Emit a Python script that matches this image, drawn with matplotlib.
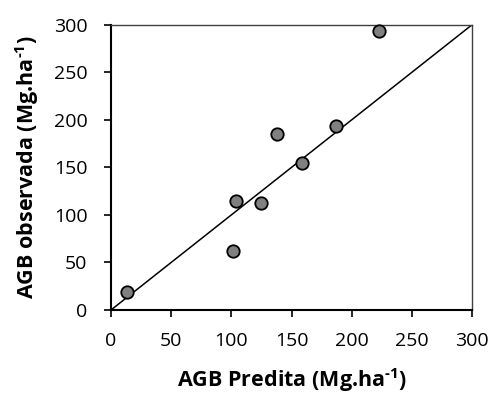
import matplotlib
matplotlib.use("Agg")
import matplotlib.pyplot as plt

predita = [13.0, 101.6, 103.5, 124.6, 137.6, 158.6, 187.1, 222.3]
observada = [19.2, 62.3, 114.5, 112.8, 184.9, 154.5, 193.3, 293.5]
line_x = [0, 300]
line_y = [0, 300]
ticks = [0, 50, 100, 150, 200, 250, 300]

plt.rcParams['font.family'] = ['Open Sans', 'DejaVu Sans']
plt.rcParams['axes.unicode_minus'] = False
plt.rcParams['mathtext.fontset'] = 'custom'
plt.rcParams['mathtext.rm'] = 'Open Sans:bold'

fig = plt.figure(figsize=(4.9, 3.94), dpi=100)
ax = fig.add_axes([0.2265, 0.2132, 0.964 - 0.2265, 0.9378 - 0.2132])

ax.plot(line_x, line_y, color='black', lw=1.1, zorder=2)
ax.scatter(predita, observada, s=80, facecolor='#808080', edgecolor='black',
           linewidths=1.3, zorder=3, clip_on=False)

ax.set_xlim(0, 300)
ax.set_ylim(0, 300)
ax.set_xticks(ticks)
ax.set_yticks(ticks)
ax.set_xticklabels([str(t) for t in ticks])
ax.set_yticklabels([str(t) for t in ticks])
ax.tick_params(axis='both', direction='out', length=5, width=1.2, labelsize=14,
               colors='black')
ax.tick_params(axis='x', pad=11)
ax.tick_params(axis='y', pad=12)
for side in ['left', 'bottom']:
    ax.spines[side].set_linewidth(1.5)
    ax.spines[side].set_color('black')
for side in ['top', 'right']:
    ax.spines[side].set_linewidth(1.0)
    ax.spines[side].set_color('#404040')

ax.set_xlabel('AGB Predita (Mg.ha$^{\\text{-1}}$)', fontsize=15.5,
              fontweight='bold', va='center')
ax.set_ylabel('AGB observada (Mg.ha$^{\\text{-1}}$)', fontsize=15.5,
              fontweight='bold', va='center')
ax.xaxis.set_label_coords(0.5, (310 - 380) / 285.5)
ax.yaxis.set_label_coords((27 - 111) / 361.3, 0.5)

fig.savefig('out.png', dpi=100)
